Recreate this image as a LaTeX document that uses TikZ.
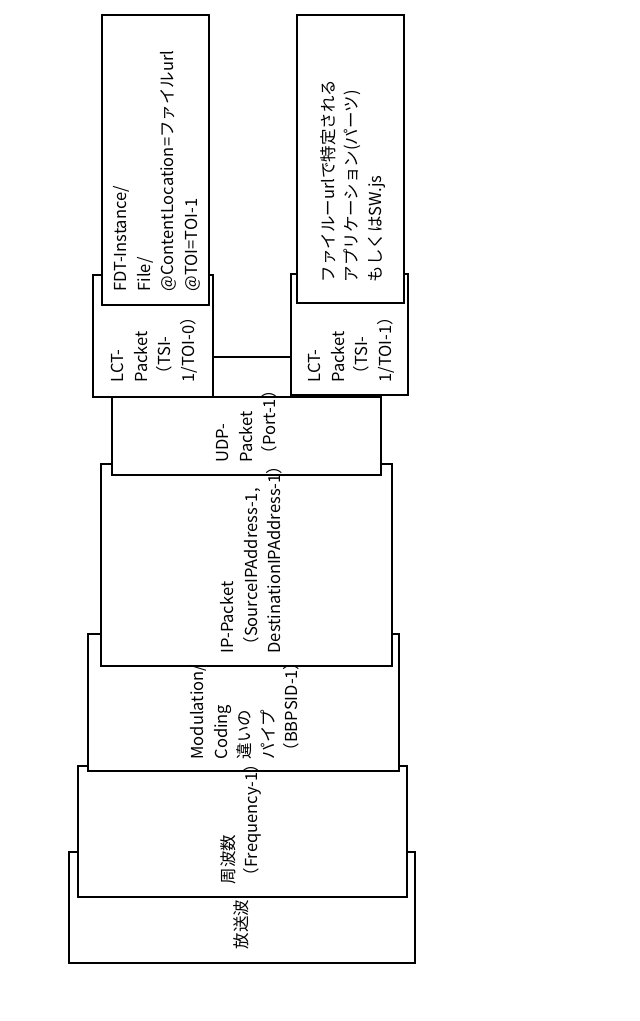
\documentclass[tikz,border=0pt]{standalone}
\usepackage{fontspec}
\setmainfont{Noto Sans CJK JP}
\begin{document}
\begin{tikzpicture}[x=1pt,y=-1pt,line width=1.2pt,
    layer/.style={draw,fill=white},
    label/.style={rotate=90,anchor=north west,inner sep=0pt,align=left,
      font=\fontsize{16.5}{23.5}\selectfont}]
    \useasboundingbox (0,0) rectangle (640,1021);

    % Stacked layers, lowest first
    \filldraw[layer] (69,852) rectangle (415,963);
    \filldraw[layer] (78,766) rectangle (407,897);
    \filldraw[layer] (88,634) rectangle (399,771);
    \filldraw[layer] (101,464) rectangle (392,666);
    \filldraw[layer] (112,397) rectangle (381,475);
    \node[layer,minimum width=120pt,minimum height=122pt] (lct0) at (153,336) {};
    \node[layer,minimum width=117pt,minimum height=121pt] (lct1) at (349.5,334.5) {};
    \filldraw[layer] (102,15) rectangle (209,305);
    \filldraw[layer] (297,15) rectangle (404,303);

    % Link between the two LCT packets
    \draw (lct0.east |- 0,357) -- (lct1.west |- 0,357);

    % Labels
    \node[label] (wave) at (233,950) {放送波};
    \node[label] (freq) at (220,885) {周波数\\（Frequency-1）};
    \node[label] (pipe) at (190,760) {Modulation/\\Coding\\違いの\\パイプ\\（BBPSID-1）};
    \node[label] (ip) at (220,654) {IP-Packet\\（SourceIPAddress-1,\\DestinationIPAddress-1）};
    \node[label] (udp) at (216,463) {UDP-\\Packet\\（Port-1）};
    \node[label] (lcttxt0) at (111,383) {LCT-\\Packet\\（TSI-\\1/TOI-0）};
    \node[label] (lcttxt1) at (308,383) {LCT-\\Packet\\（TSI-\\1/TOI-1）};
    \node[label] (fdt) at (113,292) {FDT-Instance/\\File/\\@ContentLocation=ファイルurl\\@TOI=TOI-1};
    \node[label] (app) at (320,283) {ファイルーurlで特定される\\アプリケーション(パーツ)\\もしくはSW.js};
\end{tikzpicture}
\end{document}
